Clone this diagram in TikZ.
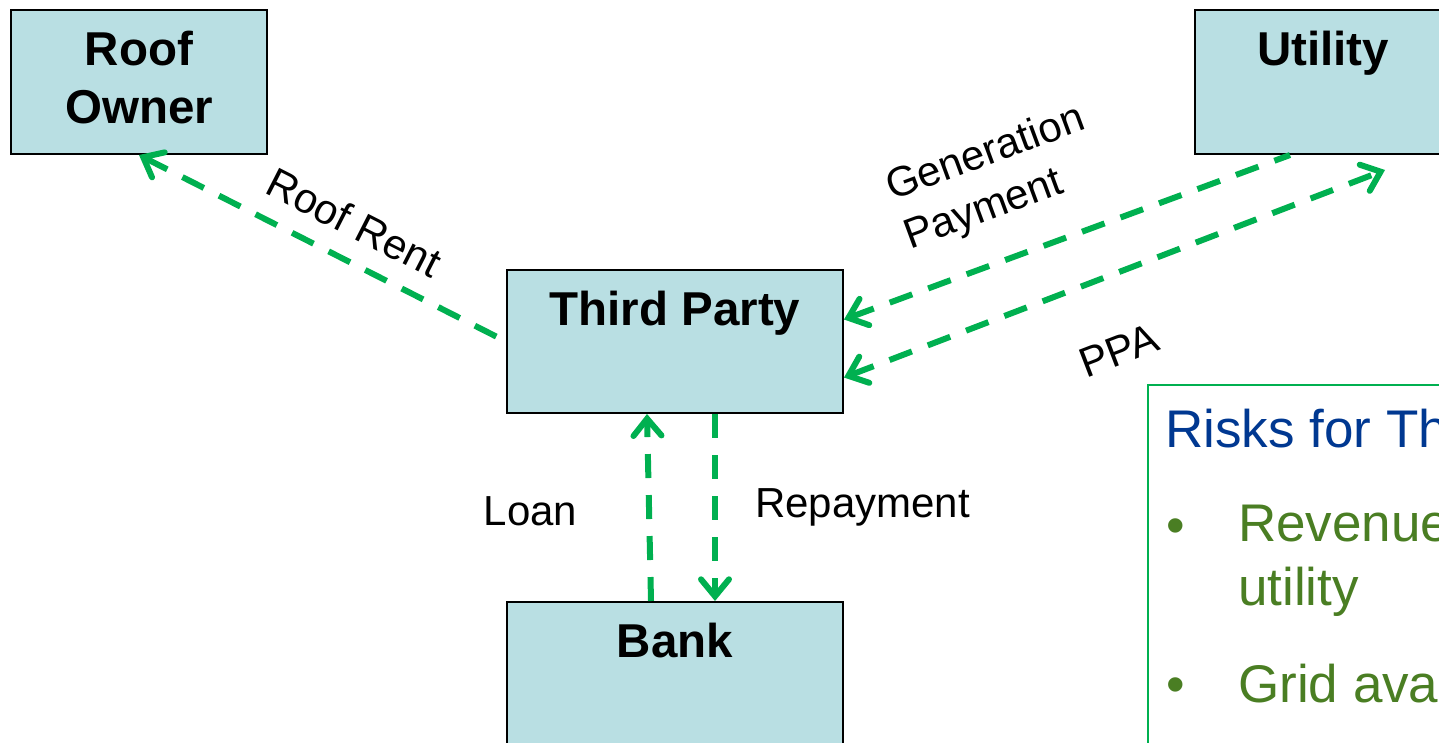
\documentclass[tikz,border=0pt]{standalone}
\usepackage{fontspec}
\setmainfont{Liberation Sans}
\usetikzlibrary{arrows.meta,positioning}
\definecolor{boxfill}{RGB}{185,223,227}
\definecolor{flowgreen}{RGB}{0,176,80}
\definecolor{riskblue}{RGB}{0,56,145}
\definecolor{riskgreen}{RGB}{74,126,35}
\tikzset{
  party/.style={rectangle,draw=black,line width=2pt,fill=boxfill,minimum width=256pt,minimum height=144pt,inner sep=0pt},
  partyname/.style={font=\fontsize{47.5}{58}\selectfont\bfseries,align=center,inner sep=0pt},
  flow/.style={draw=flowgreen,line width=6pt,dash pattern=on 24pt off 17pt,>={Straight Barb[length=17pt,width=28pt,line cap=round]}},
  flowlabel/.style={font=\fontsize{42}{52}\selectfont,inner sep=0pt},
  riskbox/.style={rectangle,draw=flowgreen,line width=1.5pt,inner sep=0pt},
  risktext/.style={font=\fontsize{53}{64}\selectfont,inner sep=0pt},
}
\begin{document}
\begin{tikzpicture}[x=1pt,y=-1pt]
        \useasboundingbox (0,0) rectangle (1439,742);
        \clip (0,0) rectangle (1439,742);

        \node (roof) [party] at (139,82) {};
        \node (util) [party] at (1323,82) {};
        \node (third) [party,minimum width=336pt,minimum height=143pt] at (675,341.5) {};
        \node (bank) [party,minimum width=336pt,minimum height=143pt] at (675,673.5) {};
        \coordinate (ppaend) at (1385,170);

        \node (roofname) [partyname,below=22pt of roof.north] {Roof\\Owner};
        \node (utilname) [partyname,below=22pt of util.north] {Utility};
        \node (thirdname) [partyname,below=22pt of third.north] {Third Party};
        \node (bankname) [partyname,below=22pt of bank.north] {Bank};

        \draw [flow,<-] (roof.south) to node [flowlabel,sloped,above=19pt,pos=0.54] {Roof Rent} (third.west);
        \draw [flow,<-] ([yshift=22pt]third.east) to node [flowlabel,align=left,sloped,above=31pt,pos=0.40] {Generation\\Payment} ([xshift=-33pt]util.south);
        \draw [flow,<->] ([yshift=-36pt]third.east) to node [flowlabel,sloped,below=56pt,pos=0.46] {PPA} (ppaend);
        \draw [flow,->] ([xshift=-24pt]bank.north) to node [flowlabel,left=69pt,pos=0.48] {Loan} ([xshift=-28pt]third.south);
        \draw [flow,->] ([xshift=40pt]third.south) to node [flowlabel,right=37pt,pos=0.5] {Repayment} ([xshift=40pt]bank.north);

        \node (risks) [riskbox,anchor=north west,minimum width=400pt,minimum height=420pt] at (1147,384) {};
        \node (risktitle) [risktext,text=riskblue,anchor=base west] at (1165,447) {Risks for Third Party};
        \node (bulletone) [risktext,text=riskgreen,anchor=base west] at (1166,543) {•};
        \node (itemone) [risktext,text=riskgreen,align=left,anchor=north west] at (1238,505) {Revenue\\utility};
        \node (bullettwo) [risktext,text=riskgreen,anchor=base west] at (1166,702) {•};
        \node (itemtwo) [risktext,text=riskgreen,anchor=base west] at (1238,702) {Grid availability};
\end{tikzpicture}
\end{document}
